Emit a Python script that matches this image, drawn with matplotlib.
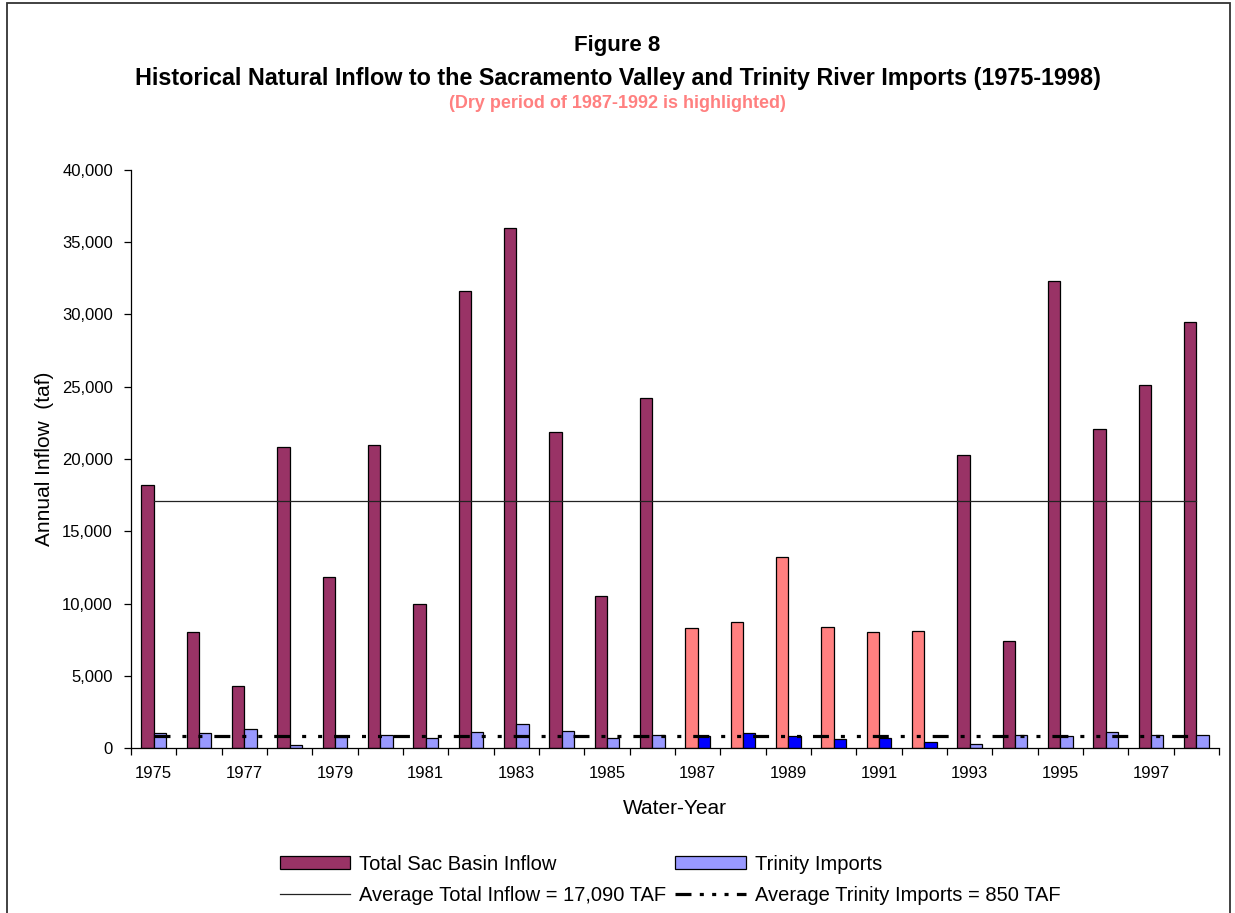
import matplotlib
matplotlib.use("Agg")
import matplotlib.pyplot as plt
from matplotlib.patches import Rectangle, Patch
from matplotlib.lines import Line2D
from matplotlib.ticker import FuncFormatter, FixedLocator
import numpy as np

plt.rcParams['font.family'] = ['Liberation Sans', 'DejaVu Sans']
plt.rcParams['lines.scale_dashes'] = False

years = list(range(1975, 1999))
sac_inflow = [18200, 8000, 4300, 20800, 11800, 21000, 10000, 31600, 36000, 21900,
              10500, 24200, 8300, 8700, 13200, 8400, 8000, 8100, 20300, 7400,
              32300, 22100, 25100, 29500]
trinity = [1070, 1050, 1290, 210, 780, 875, 690, 1085, 1660, 1175,
           690, 890, 810, 1015, 810, 600, 690, 390, 300, 900,
           830, 1085, 880, 900]
dry_years = [1987, 1988, 1989, 1990, 1991, 1992]
avg_total = 17090
avg_trinity = 850
y_ticks = [0, 5000, 10000, 15000, 20000, 25000, 30000, 35000, 40000]

C_SAC = '#993366'
C_TRI = '#9999FF'
C_SAC_DRY = '#FF8080'
C_TRI_DRY = '#0000FF'

fig = plt.figure(figsize=(12.35, 9.13), dpi=100)
ax = fig.add_axes([131/1235, 1 - 748/913, (1219-131)/1235, (748-170)/913])

x = np.arange(len(years))
w = 0.275
sac_colors = [C_SAC_DRY if y in dry_years else C_SAC for y in years]
tri_colors = [C_TRI_DRY if y in dry_years else C_TRI for y in years]
ax.bar(x - w/2, sac_inflow, width=w, color=sac_colors, edgecolor='black', linewidth=0.9, zorder=2)
ax.bar(x + w/2, trinity, width=w, color=tri_colors, edgecolor='black', linewidth=0.9, zorder=2)

ax.plot([x[0], x[-1]], [avg_total, avg_total], color='#222222', linewidth=0.9, zorder=3)
dash = (0, (11.5, 8.6, 2.9, 8.6, 2.9, 8.6))
ax.plot([x[0], x[-1]], [avg_trinity, avg_trinity], color='black', linewidth=2.3,
        linestyle=dash, zorder=3)

ax.set_xlim(-0.5, len(years) - 0.5)
ax.set_ylim(0, 40000)
ax.set_yticks(y_ticks)
ax.yaxis.set_major_formatter(FuncFormatter(lambda v, p: f'{int(v):,}'))
ax.set_xticks(x[::2])
ax.set_xticklabels([str(y) for y in years[::2]])
ax.xaxis.set_minor_locator(FixedLocator(np.arange(-0.5, len(years), 1.0)))
ax.tick_params(axis='x', which='major', length=0, labelsize=12, pad=13)
ax.tick_params(axis='x', which='minor', length=5, width=0.9, direction='out')
ax.tick_params(axis='y', length=5, width=0.9, direction='out', labelsize=12, pad=8)
for s in ['top', 'right']:
    ax.spines[s].set_visible(False)
for s in ['left', 'bottom']:
    ax.spines[s].set_linewidth(0.9)

ax.set_ylabel('Annual Inflow  (taf)', fontsize=15, labelpad=6)
ax.set_xlabel('Water-Year', fontsize=15, labelpad=13)

fig.text(0.5, 1 - 45/913, 'Figure 8', ha='center', va='center', fontsize=16, fontweight='bold')
fig.text(0.5, 1 - 78/913,
         'Historical Natural Inflow to the Sacramento Valley and Trinity River Imports (1975-1998)',
         ha='center', va='center', fontsize=16.8, fontweight='bold')
fig.text(0.5, 1 - 103/913, '(Dry period of 1987-1992 is highlighted)', ha='center', va='center',
         fontsize=13, fontweight='bold', color='#FF8080')

handles = [Patch(facecolor=C_SAC, edgecolor='black', linewidth=0.9),
           Line2D([0], [0], color='#222222', linewidth=0.9),
           Patch(facecolor=C_TRI, edgecolor='black', linewidth=0.9),
           Line2D([0], [0], color='black', linewidth=2.3, linestyle=(0, (11.5, 6, 2.9, 6, 2.9, 6, 2.9, 6)))]
labels = ['Total Sac Basin Inflow', 'Average Total Inflow = 17,090 TAF',
          'Trinity Imports', 'Average Trinity Imports = 850 TAF']
fig.legend(handles, labels, ncol=2, loc='center', bbox_to_anchor=(670/1235, 1 - 880/913),
           frameon=False, fontsize=14.5, handlelength=3.5, handleheight=0.6,
           columnspacing=0.45, handletextpad=0.45, labelspacing=0.62)

fig.add_artist(Rectangle((7/1235, -0.05), (1230-7)/1235, 1.05 - 3/913,
                         transform=fig.transFigure, fill=False, edgecolor='#333333', linewidth=1.3))

fig.savefig('out.png', dpi=100)
